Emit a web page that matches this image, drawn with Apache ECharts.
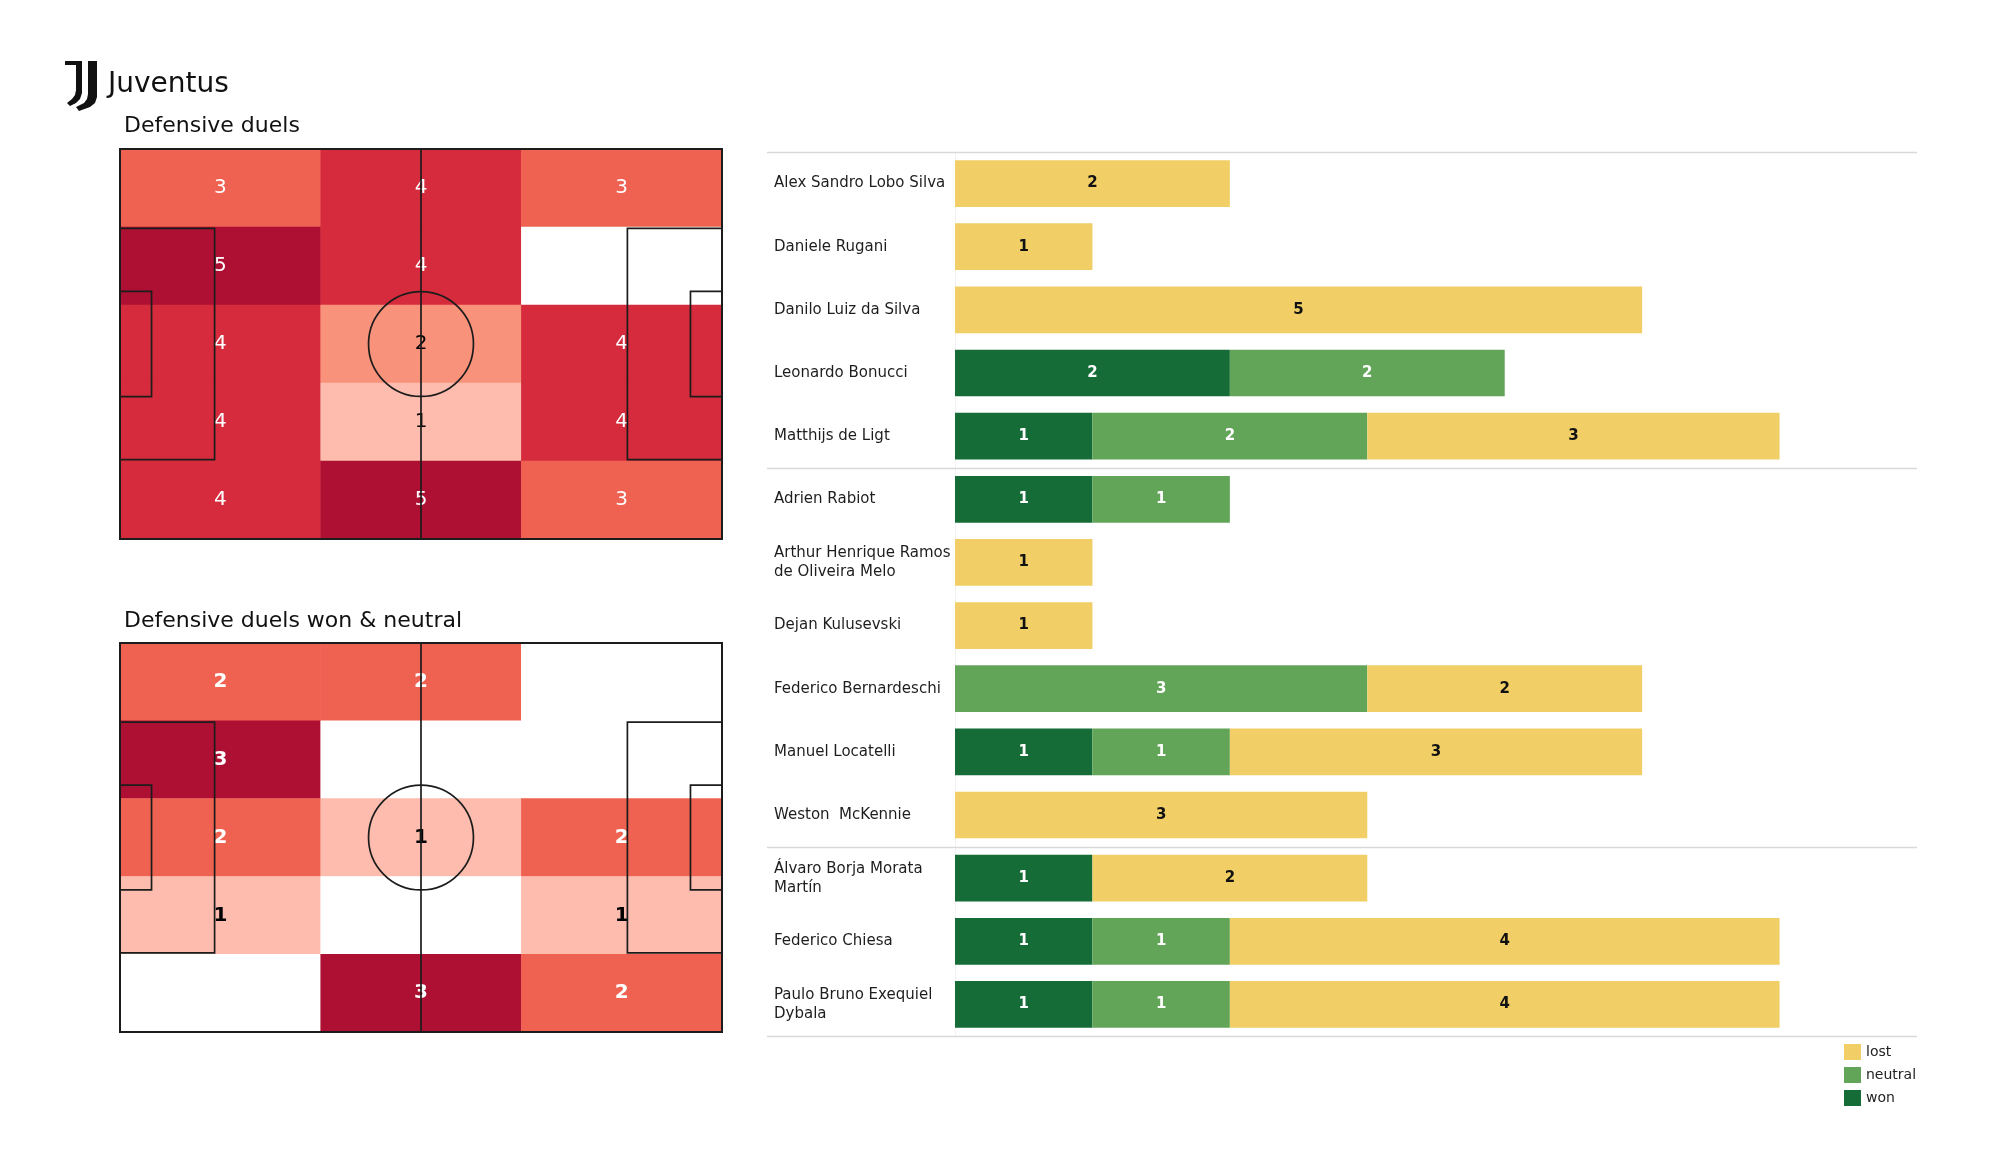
<!DOCTYPE html>
<html><head><meta charset="utf-8">
<script src="https://cdn.jsdelivr.net/npm/echarts@6/dist/echarts.min.js"></script>
<style>html,body{margin:0;padding:0;background:#fff}#c{width:2000px;height:1175px}</style>
</head><body><div id="c"></div>
<script>
// ---------- data ----------
const zoneCols = ['0', '1', '2'];
const zoneRows = ['0', '1', '2', '3', '4'];
// rows top -> bottom, columns left -> right
const duelsZones = [
  [3, 4, 3],
  [5, 4, 0],
  [4, 2, 4],
  [4, 1, 4],
  [4, 5, 3]
];
const wonNeutralZones = [
  [2, 2, 0],
  [3, 0, 0],
  [2, 1, 2],
  [1, 0, 1],
  [0, 3, 2]
];
const players = [
  'Alex Sandro Lobo Silva',
  'Daniele Rugani',
  'Danilo Luiz da Silva',
  'Leonardo Bonucci',
  'Matthijs de Ligt',
  'Adrien Rabiot',
  'Arthur Henrique Ramos\nde Oliveira Melo',
  'Dejan Kulusevski',
  'Federico Bernardeschi',
  'Manuel Locatelli',
  'Weston  McKennie',
  'Álvaro Borja Morata\nMartín',
  'Federico Chiesa',
  'Paulo Bruno Exequiel\nDybala'
];
const wonValues     = [0, 0, 0, 2, 1, 1, 0, 0, 0, 1, 0, 1, 1, 1];
const neutralValues = [0, 0, 0, 2, 2, 1, 0, 0, 3, 1, 0, 0, 1, 1];
const lostValues    = [2, 1, 5, 0, 3, 0, 1, 1, 2, 3, 3, 2, 4, 4];
const groupBoundaries = [0, 5, 11, 14];
const legendNames = ['lost', 'neutral', 'won'];

// ---------- styling ----------
const FONT = 'DejaVu Sans';
const COL_WON = '#156c37', COL_NEUTRAL = '#62a558', COL_LOST = '#f1cf66';
const duelsPieces = [
  {value: 0, color: '#ffffff'}, {value: 1, color: '#fdbcad'}, {value: 2, color: '#f9927b'},
  {value: 3, color: '#ef6150'}, {value: 4, color: '#d52b3c'}, {value: 5, color: '#ad1033'}
];
const wonPieces = [
  {value: 0, color: '#ffffff'}, {value: 1, color: '#fdbcad'}, {value: 2, color: '#ef6150'},
  {value: 3, color: '#ad1033'}
];
const PITCH_L = 105, PITCH_W = 68;
const pitchShapes = [
  ['rect', 0, 0, 105, 68, 2],
  ['line', 52.5, 0, 52.5, 68, 1.7],
  ['circle', 52.5, 34, 9.15, 0, 1.7],
  ['rect', 0, 13.84, 16.5, 54.16, 1.7],
  ['rect', 88.5, 13.84, 105, 54.16, 1.7],
  ['rect', 0, 24.84, 5.5, 43.16, 1.7],
  ['rect', 99.5, 24.84, 105, 43.16, 1.7]
];

function zoneData(m) {
  const out = [];
  m.forEach((row, r) => row.forEach((v, c) => out.push([c, r, v])));
  return out;
}
function maxOf(m) { return Math.max(...m.flat()); }

function heatSeries(m, gi, bold) {
  const mx = maxOf(m);
  return {
    type: 'heatmap', xAxisIndex: gi, yAxisIndex: gi, data: zoneData(m),
    itemStyle: {borderWidth: 0},
    label: {
      show: true,
      formatter: p => { const v = p.value[2]; if (!v) return ''; return (v / mx >= 0.5 ? '{w|' : '{k|') + v + '}'; },
      rich: {
        w: {color: '#ffffff', fontSize: 20, fontFamily: FONT, fontWeight: bold ? 'bold' : 'normal'},
        k: {color: '#000000', fontSize: 20, fontFamily: FONT, fontWeight: bold ? 'bold' : 'normal'}
      }
    },
    z: 1
  };
}
function pitchSeries(gi) {
  return {
    type: 'custom', xAxisIndex: gi, yAxisIndex: gi, coordinateSystem: 'cartesian2d',
    data: pitchShapes.map((s, i) => [i]), clip: false, silent: true, z: 5,
    renderItem: (params, api) => {
      const s = pitchShapes[params.dataIndex];
      const st = {fill: 'none', stroke: '#1c1c1c', lineWidth: s[5]};
      if (s[0] === 'rect') {
        const a = api.coord([s[1], s[2]]), b = api.coord([s[3], s[4]]);
        return {type: 'rect', shape: {x: Math.min(a[0], b[0]), y: Math.min(a[1], b[1]), width: Math.abs(b[0] - a[0]), height: Math.abs(b[1] - a[1])}, style: st};
      }
      if (s[0] === 'line') {
        const a = api.coord([s[1], s[2]]), b = api.coord([s[3], s[4]]);
        return {type: 'line', shape: {x1: a[0], y1: a[1], x2: b[0], y2: b[1]}, style: st};
      }
      const c = api.coord([s[1], s[2]]);
      const r = api.size([s[3], 0])[0];
      return {type: 'circle', shape: {cx: c[0], cy: c[1], r: r}, style: st};
    }
  };
}
function barSeries(name, vals, color, labelColor) {
  return {
    type: 'bar', name: name, stack: 'duels', xAxisIndex: 4, yAxisIndex: 4,
    data: vals, barCategoryGap: '26%', itemStyle: {color: color},
    label: {show: true, position: 'inside', formatter: p => p.value ? String(p.value) : '',
      color: labelColor, fontWeight: 'bold', fontSize: 15, fontFamily: FONT}
  };
}

const pitch1 = {left: 120, top: 149, width: 602, height: 390};
const pitch2 = {left: 120, top: 643, width: 602, height: 389};
const barGrid = {left: 955, top: 152, width: 962, height: 884};
const hidden = {show: false};

const option = {
  animation: false,
  backgroundColor: '#ffffff',
  textStyle: {fontFamily: FONT},
  grid: [pitch1, pitch1, pitch2, pitch2, barGrid].map(g => Object.assign({}, g)),
  xAxis: [
    {type: 'category', gridIndex: 0, data: zoneCols, axisLine: hidden, axisTick: hidden, axisLabel: hidden, splitLine: hidden},
    {type: 'value', gridIndex: 1, min: 0, max: PITCH_L, show: false},
    {type: 'category', gridIndex: 2, data: zoneCols, axisLine: hidden, axisTick: hidden, axisLabel: hidden, splitLine: hidden},
    {type: 'value', gridIndex: 3, min: 0, max: PITCH_L, show: false},
    {type: 'value', gridIndex: 4, min: 0, max: 7, show: false}
  ],
  yAxis: [
    {type: 'category', gridIndex: 0, data: zoneRows, inverse: true, axisLine: hidden, axisTick: hidden, axisLabel: hidden, splitLine: hidden},
    {type: 'value', gridIndex: 1, min: 0, max: PITCH_W, inverse: true, show: false},
    {type: 'category', gridIndex: 2, data: zoneRows, inverse: true, axisLine: hidden, axisTick: hidden, axisLabel: hidden, splitLine: hidden},
    {type: 'value', gridIndex: 3, min: 0, max: PITCH_W, inverse: true, show: false},
    {type: 'category', gridIndex: 4, data: players, inverse: true,
      axisLine: {show: true, lineStyle: {color: '#f2f2f2', width: 1}}, axisTick: hidden, splitLine: hidden,
      axisLabel: {align: 'left', margin: 181, fontSize: 15, color: '#1e1e1e', lineHeight: 19, fontFamily: FONT}}
  ],
  visualMap: [
    {type: 'piecewise', show: false, seriesIndex: 0, dimension: 2, pieces: duelsPieces},
    {type: 'piecewise', show: false, seriesIndex: 2, dimension: 2, pieces: wonPieces}
  ],
  legend: {
    data: legendNames, orient: 'vertical', left: 1839, top: 1039, icon: 'rect',
    itemWidth: 17, itemHeight: 16, itemGap: 7, selectedMode: false,
    textStyle: {fontSize: 14, color: '#222222', fontFamily: FONT}
  },
  graphic: [
    {type: 'polygon', id: 'logoL', shape: {points: [[65,61],[82,61],[82,93],[80,99],[76,103],[70,106],[67,103],[72,99],[75,95],[76,90],[76,65],[65,65]]}, style: {fill: '#111111'}},
    {type: 'polygon', id: 'logoR', shape: {points: [[88,61],[97,61],[97,97],[95,103],[90,107],[79,111],[76,107],[84,103],[87,99],[88,94]]}, style: {fill: '#111111'}},
    {type: 'text', id: 't0', style: {text: 'Juventus', x: 108, y: 85, fontSize: 28, fontFamily: FONT, fill: '#111111', verticalAlign: 'middle'}},
    {type: 'text', id: 't1', style: {text: 'Defensive duels', x: 124, y: 126, fontSize: 22, fontFamily: FONT, fill: '#111111', verticalAlign: 'middle'}},
    {type: 'text', id: 't2', style: {text: 'Defensive duels won & neutral', x: 124, y: 621, fontSize: 22, fontFamily: FONT, fill: '#111111', verticalAlign: 'middle'}}
  ],
  series: [
    heatSeries(duelsZones, 0, false),
    pitchSeries(1),
    heatSeries(wonNeutralZones, 2, true),
    pitchSeries(3),
    barSeries('won', wonValues, COL_WON, '#ffffff'),
    barSeries('neutral', neutralValues, COL_NEUTRAL, '#ffffff'),
    barSeries('lost', lostValues, COL_LOST, '#111111')
  ]
};

const chart = echarts.init(document.getElementById('c'), null, {renderer: 'canvas'});
chart.setOption(option);

// group separator lines derived from the category axis
const y0 = chart.convertToPixel({yAxisIndex: 4}, 0);
const y1 = chart.convertToPixel({yAxisIndex: 4}, 1);
const band = y1 - y0;
const xRight = chart.convertToPixel({xAxisIndex: 4}, 7);
const xLeft = barGrid.left - 188;
chart.setOption({
  graphic: groupBoundaries.map((b, i) => {
    const y = Math.round(y0 + (b - 0.5) * band) + 0.5;
    return {type: 'line', id: 'sep' + i, shape: {x1: xLeft, y1: y, x2: xRight, y2: y}, style: {stroke: '#d9d9d9', lineWidth: 1.5}, z: 10};
  })
});
</script></body></html>
